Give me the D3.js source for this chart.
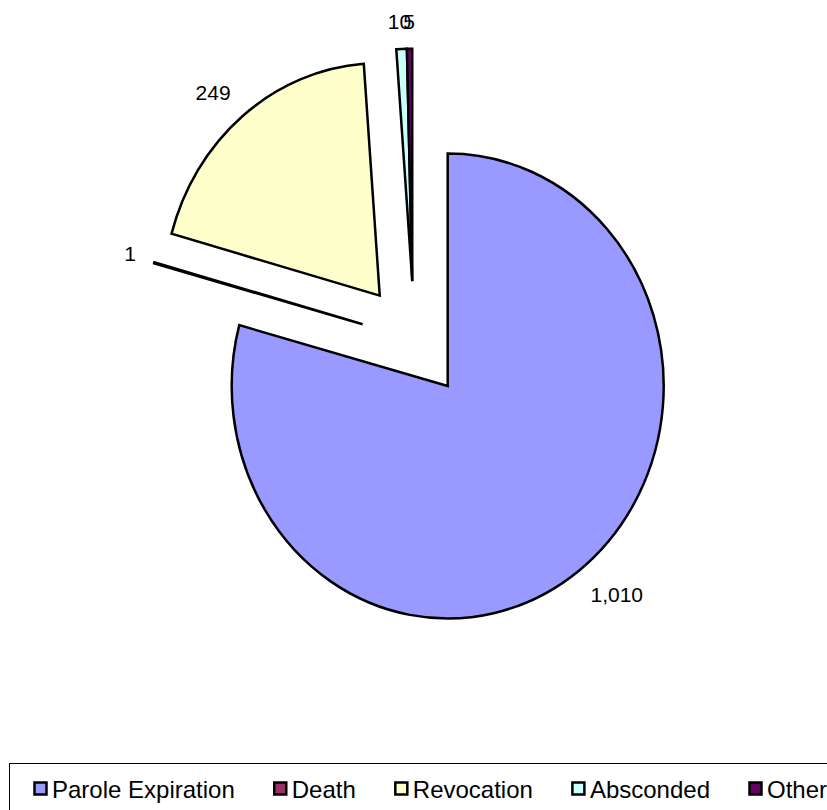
<!DOCTYPE html>
<html>
<head>
<meta charset="utf-8">
<script src="https://cdn.jsdelivr.net/npm/d3@7/dist/d3.min.js"></script>
<style>
  html, body { margin: 0; padding: 0; background: #fff; }
  svg { display: block; }
  text { font-family: "Liberation Sans", Arial, sans-serif; fill: #000; }
</style>
</head>
<body>
<svg id="chart" width="827" height="810"></svg>
<script>
// Parole releases by outcome
const categories = ["Parole Expiration", "Death", "Revocation", "Absconded", "Other"];
const values = [1010, 1, 249, 10, 5];
const colors = ["#9999FF", "#993366", "#FFFFCC", "#CCFFFF", "#660066"];

// Pulled-out slices: distance as a share of the radius, and direction (degrees clockwise from 12 o'clock)
const explodeShare = [0, 0.475, 0.50, 0.48, 0.48];
const explodeAngle = [0, 304, 321, 340, 340];

const svg = d3.select("#chart");
const cx = 447.7, cy = 386;
const rx = 216, ry = 232.5;      // plot area is slightly taller than wide
const fmt = d3.format(",");

const pie = d3.pie().sort(null).value(d => d.value).startAngle(0).endAngle(2 * Math.PI);
const data = categories.map((c, i) => ({ name: c, value: values[i], color: colors[i], ex: explodeShare[i], ea: explodeAngle[i] }));
const arcs = pie(data);

const arc = d3.arc().innerRadius(0).outerRadius(rx);

function offset(d) {
  const a = d.data.ea * Math.PI / 180;
  return [d.data.ex * Math.sin(a) * rx, -d.data.ex * Math.cos(a) * ry];
}

const g = svg.append("g").attr("transform", `translate(${cx},${cy})`);

const slices = g.selectAll("g.slice")
  .data(arcs)
  .join("g")
  .attr("class", "slice")
  .attr("transform", d => {
    const [dx, dy] = offset(d);
    return `translate(${dx},${dy})`;
  });

slices.append("path")
  .attr("d", arc)
  .attr("transform", `scale(1,${ry / rx})`)
  .attr("fill", d => d.data.color)
  .attr("stroke", "#000")
  .attr("stroke-width", 2.5)
  .attr("stroke-linejoin", "miter")
  .attr("vector-effect", "non-scaling-stroke");

// Value labels outside each slice
const labelSize = 21, gap = 19;
const clamp = v => Math.max(-1, Math.min(1, v));
slices.append("text")
  .attr("font-size", labelSize)
  .attr("text-anchor", "middle")
  .text(d => fmt(d.data.value))
  .each(function (d) {
    const w = this.getComputedTextLength();
    const h = labelSize * 0.8;
    const mid = (d.startAngle + d.endAngle) / 2;
    const sx = Math.sin(mid), sy = -Math.cos(mid);
    // rim point, pushed out by a gap plus enough of the label box to clear it
    const x = sx * rx + gap * sx + clamp(2 * sx) * w / 2;
    const y = sy * ry + gap * sy + clamp(2 * sy) * h / 2;
    d3.select(this).attr("x", x).attr("y", y).attr("dy", "0.36em");
  });

// Legend
const legendSize = 24;
const legend = svg.append("g");
legend.append("rect")
  .attr("x", 9.5).attr("y", 763.5)
  .attr("width", 900).attr("height", 100)
  .attr("fill", "#fff").attr("stroke", "#000").attr("stroke-width", 1);

let lx = 34;
const ly = 782;
data.forEach(d => {
  const item = legend.append("g");
  item.append("rect")
    .attr("x", lx + 0.5).attr("y", ly + 0.5)
    .attr("width", 12).attr("height", 12)
    .attr("fill", d.color).attr("stroke", "#000").attr("stroke-width", 2.5);
  const t = item.append("text")
    .attr("x", lx + 18).attr("y", ly + 15.5)
    .attr("font-size", legendSize)
    .text(d.name);
  const w = t.node().getComputedTextLength();
  lx = lx + 18 + w + 39;
});
</script>
</body>
</html>
